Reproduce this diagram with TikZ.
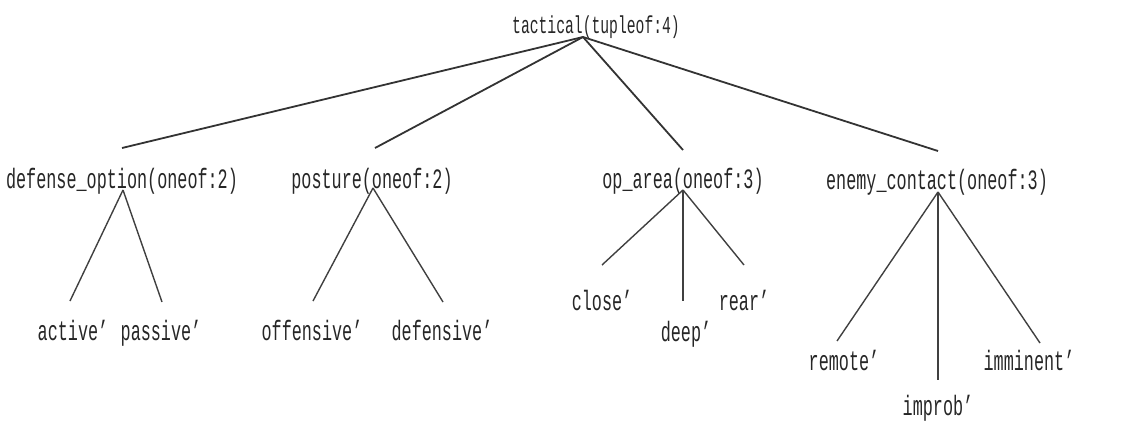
\documentclass[tikz,border=0pt]{standalone}
\usepackage{fontspec}
\newfontfamily\tfont[FakeStretch=0.6]{Liberation Mono}
\begin{document}
\begin{tikzpicture}[x=1pt,y=-1pt,
  lbl/.style={font=\tfont\fontsize{28}{28}\selectfont, inner sep=0pt, anchor=base, text=black!85},
  rootlbl/.style={lbl, font=\tfont\fontsize{24.5}{24.5}\selectfont},
  edge/.style={draw=black!80, line width=1.8pt},
  subedge/.style={draw=black!75, line width=1.4pt}]
\useasboundingbox (0,0) rectangle (1141,426);
% labels
\node[rootlbl] (root) at (596,33) {tactical(tupleof:4)};
\node[lbl] (def) at (122,188) {defense\_option(oneof:2)};
\node[lbl] (pos) at (372,188) {posture(oneof:2)};
\node[lbl] (opa) at (683,188) {op\_area(oneof:3)};
\node[lbl] (ene) at (937,189) {enemy\_contact(oneof:3)};
\node[lbl] (act) at (73,340) {active’};
\node[lbl] (pas) at (161,340) {passive’};
\node[lbl] (off) at (312,340) {offensive’};
\node[lbl] (dfn) at (442,340) {defensive’};
\node[lbl] (clo) at (602,310) {close’};
\node[lbl] (dee) at (686,341) {deep’};
\node[lbl] (rea) at (744,310) {rear’};
\node[lbl] (rem) at (844,370) {remote’};
\node[lbl] (imm) at (1029,370) {imminent’};
\node[lbl] (imp) at (938,415) {improb’};
% connector end points
\coordinate (root-ap) at (583,37);
\coordinate (def-top) at (122,148);
\coordinate (pos-top) at (375,148);
\coordinate (opa-top) at (683,150);
\coordinate (ene-top) at (938,151);
\coordinate (def-ap) at (123,190);
\coordinate (pos-ap) at (373,188);
\coordinate (opa-ap) at (683,190);
\coordinate (ene-ap) at (938,192);
\coordinate (act-top) at (70,301);
\coordinate (pas-top) at (162,302);
\coordinate (off-top) at (313,301);
\coordinate (dfn-top) at (443,302);
\coordinate (clo-top) at (602,265);
\coordinate (dee-top) at (683,301);
\coordinate (rea-top) at (744,265);
\coordinate (rem-top) at (837,341);
\coordinate (imp-top) at (938,380);
\coordinate (imm-top) at (1040,343);
% connectors
\draw[edge] (root-ap) -- (def-top);
\draw[edge] (root-ap) -- (pos-top);
\draw[edge] (root-ap) -- (opa-top);
\draw[edge] (root-ap) -- (ene-top);
\draw[subedge] (def-ap) -- (act-top);
\draw[subedge] (def-ap) -- (pas-top);
\draw[subedge] (pos-ap) -- (off-top);
\draw[subedge] (pos-ap) -- (dfn-top);
\draw[subedge] (opa-ap) -- (clo-top);
\draw[subedge] (opa-ap) -- (dee-top);
\draw[subedge] (opa-ap) -- (rea-top);
\draw[subedge] (ene-ap) -- (rem-top);
\draw[subedge] (ene-ap) -- (imp-top);
\draw[subedge] (ene-ap) -- (imm-top);
\end{tikzpicture}
\end{document}
